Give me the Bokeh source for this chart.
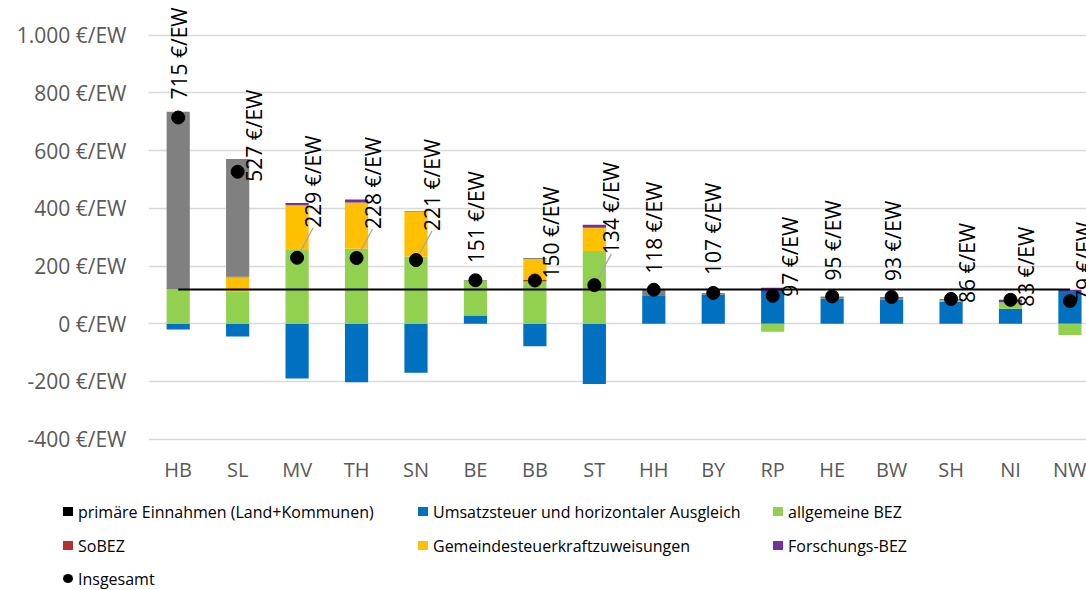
import numpy as np
from bokeh.plotting import figure
from bokeh.layouts import column
from bokeh.models import Range1d, FixedTicker, ColumnDataSource, Div
from bokeh.embed import file_html
from bokeh.resources import INLINE
from bokeh.core.properties import value

# ---------------- data ----------------
states = ["HB", "SL", "MV", "TH", "SN", "BE", "BB", "ST",
          "HH", "BY", "RP", "HE", "BW", "SH", "NI", "NW"]
umsatzsteuer = [-20, -44, -190, -203, -170, 29, -78, -209, 96, 101, 110, 87, 84, 76, 52, 114]
allgemeine_bez = [121, 113, 256, 260, 233, 118, 147, 252, 0, 0, -28, 0, 0, 5, 23, -39]
sobez = [0, 0, 0, 0, 0, 0, 5, 0, 0, 0, 0, 0, 0, 0, 0, 0]
gemeindesteuer = [0, 48, 155, 160, 155, 0, 73, 81, 0, 0, 0, 0, 0, 0, 0, 0]
forschungs_bez = [0, 2, 8, 11, 0, 0, 0, 10, 0, 0, 15, 0, 0, 0, 8, 4]
primaer_rest = [614, 408, 0, 0, 3, 4, 3, 0, 22, 6, 0, 8, 9, 5, 0, 0]
insgesamt = [715, 527, 229, 228, 221, 151, 150, 134, 118, 107, 97, 95, 93, 86, 83, 79]
primaere_einnahmen = [119] * 16
y_ticks = [-400, -200, 0, 200, 400, 600, 800, 1000]
y_tick_labels = ["-400 €/EW", "-200 €/EW", "0 €/EW", "200 €/EW", "400 €/EW",
                 "600 €/EW", "800 €/EW", "1.000 €/EW"]
legend_labels = ["primäre Einnahmen (Land+Kommunen)",
                 "Umsatzsteuer und horizontaler Ausgleich", "allgemeine BEZ",
                 "SoBEZ", "Gemeindesteuerkraftzuweisungen", "Forschungs-BEZ",
                 "Insgesamt"]

# label placement (screen px, dx right / dy up relative to the dot)
label_dx = [1, 16, 16, 16, 16, 1, 16, 17, 0, 0, 17, 1, 1, 16, 15, 14]
label_dy = [18, -10, 30, 29, 29, 17, 2, 31, 16, 18, -1, 16, 16, -4, -7, -1]
leader = [0, 0, 1, 1, 1, 0, 0, 1, 0, 0, 0, 0, 0, 0, 0, 0]

FONT = "Open Sans"
BLUE, GREEN, RED, YELLOW, PURPLE, GRAY = "#0070C0", "#92D050", "#B3312F", "#FFC000", "#7030A0", "#808080"

# ---------------- geometry ----------------
W, H = 1086, 490
ML, MB = 148, 45
FW, FH = W - ML, H - MB
PX_X = 59.45          # px per category
PX_Y = 0.2885         # px per €/EW
x0 = -0.4996
x1 = x0 + FW / PX_X
y1 = 1120.6
y0 = y1 - FH / PX_Y

p = figure(width=W, height=H, x_range=Range1d(x0, x1), y_range=Range1d(y0, y1),
           output_backend="svg", toolbar_location=None,
           min_border_left=ML, min_border_right=0, min_border_top=0, min_border_bottom=MB)
p.outline_line_color = None
p.background_fill_color = "white"

xs = np.arange(len(states))

# stacked bars (positive upwards, negative downwards)
series = [umsatzsteuer, allgemeine_bez, sobez, gemeindesteuer, forschungs_bez, primaer_rest]
colors = [BLUE, GREEN, RED, YELLOW, PURPLE, GRAY]
pos = np.zeros(len(states))
neg = np.zeros(len(states))
for vals, col in zip(series, colors):
    v = np.array(vals, dtype=float)
    bottom = np.where(v >= 0, pos, neg + v)
    top = np.where(v >= 0, pos + v, neg)
    pos += np.clip(v, 0, None)
    neg += np.clip(v, None, 0)
    src = ColumnDataSource(dict(x=xs, bottom=bottom, top=top))
    p.vbar(x="x", bottom="bottom", top="top", width=0.39, source=src,
           fill_color=col, line_color=None)

# primäre Einnahmen line
p.line(xs, primaere_einnahmen, line_color="black", line_width=2)

# leader lines
lx0, ly0, lx1, ly1 = [], [], [], []
for i, flag in enumerate(leader):
    if flag:
        lx0.append(i)
        ly0.append(insgesamt[i])
        lx1.append(i + label_dx[i] / PX_X)
        ly1.append(insgesamt[i] + label_dy[i] / PX_Y)
p.segment(lx0, ly0, lx1, ly1, line_color="#A6A6A6", line_width=1.3)

# total dots
p.scatter(xs, insgesamt, size=13, marker="circle", fill_color="black", line_color="black")

# data labels
lab_src = ColumnDataSource(dict(
    x=xs, y=insgesamt, text=[f"{v} €/EW" for v in insgesamt],
    xo=label_dx, yo=[-d for d in label_dy]))
p.text(x="x", y="y", text="text", source=lab_src, angle=np.pi / 2,
       x_offset="xo", y_offset="yo", text_align="left", text_baseline="middle",
       text_font=value(FONT), text_font_size="21px", text_color="black")

# axes
p.xgrid.grid_line_color = None
p.ygrid.grid_line_color = "#D9D9D9"
p.ygrid.grid_line_width = 1.5
p.yaxis.ticker = FixedTicker(ticks=y_ticks)
p.yaxis.major_label_overrides = {t: l for t, l in zip(y_ticks, y_tick_labels)}
p.xaxis.ticker = FixedTicker(ticks=list(xs))
p.xaxis.major_label_overrides = {int(i): s for i, s in zip(xs, states)}
for ax in (p.xaxis, p.yaxis):
    ax.axis_line_color = None
    ax.major_tick_line_color = None
    ax.minor_tick_line_color = None
    ax.major_tick_out = 0
    ax.major_tick_in = 0
    ax.major_label_text_font = FONT
    ax.major_label_text_color = "#595959"
p.yaxis.major_label_text_font_size = "21px"
p.yaxis.major_label_standoff = 22
p.xaxis.major_label_text_font_size = "20px"
p.xaxis.major_label_standoff = 10

# ---------------- legend (below the plot) ----------------
LH = 100
col_x = [63, 418, 773]
row_base = [27.7, 61.7, 95.0]   # baselines relative to legend top
keys = [("sq", "#000000"), ("sq", BLUE), ("sq", GREEN),
        ("sq", RED), ("sq", YELLOW), ("sq", PURPLE), ("dot", "#000000")]
parts = []
for k, (label, (kind, col)) in enumerate(zip(legend_labels, keys)):
    r, c = divmod(k, 3)
    x = col_x[c]
    base = row_base[r]
    radius = "50%" if kind == "dot" else "0"
    parts.append(
        f'<span style="position:absolute;left:{x}px;top:{base - 11}px;width:10px;'
        f'height:9px;background:{col};border-radius:{radius};"></span>')
    parts.append(
        f'<span style="position:absolute;left:{x + 15}px;top:{base - 16.2}px;'
        f'line-height:20px;white-space:nowrap;">{label}</span>')
html = (f'<div style="position:relative;width:{W}px;height:{LH}px;'
        f'font-family:\'{FONT}\';font-size:16px;color:#000;">' + "".join(parts) + '</div>')
legend_div = Div(text=html, width=W, height=LH, margin=0)

layout = column(p, legend_div, spacing=0)
open("out.html", "w").write(file_html(layout, INLINE))
